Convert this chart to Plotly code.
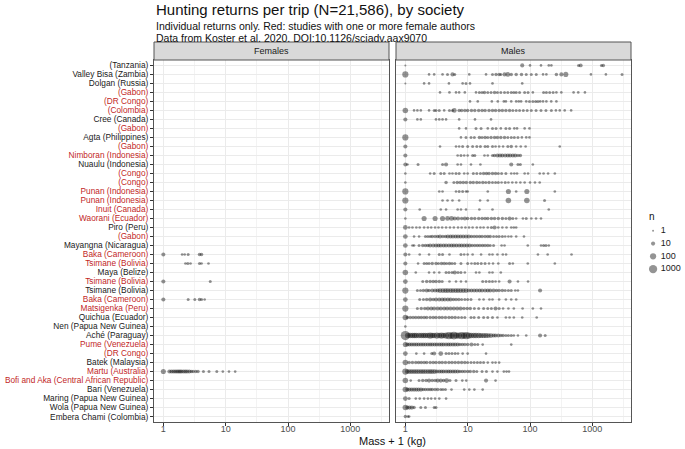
import numpy as np
import plotly.graph_objects as go

# societies, top to bottom; True = study with one or more female authors
societies = [
    "(Tanzania)", "Valley Bisa (Zambia)", "Dolgan (Russia)", "(Gabon)", "(DR Congo)",
    "(Colombia)", "Cree (Canada)", "(Gabon)", "Agta (Philippines)", "(Gabon)",
    "Nimboran (Indonesia)", "Nuaulu (Indonesia)", "(Congo)", "(Congo)", "Punan (Indonesia)",
    "Punan (Indonesia)", "Inuit (Canada)", "Waorani (Ecuador)", "Piro (Peru)", "(Gabon)",
    "Mayangna (Nicaragua)", "Baka (Cameroon)", "Tsimane (Bolivia)", "Maya (Belize)", "Tsimane (Bolivia)",
    "Tsimane (Bolivia)", "Baka (Cameroon)", "Matsigenka (Peru)", "Quichua (Ecuador)", "Nen (Papua New Guinea)",
    "Aché (Paraguay)", "Pume (Venezuela)", "(DR Congo)", "Batek (Malaysia)", "Martu (Australia)",
    "Bofi and Aka (Central African Republic)", "Bari (Venezuela)", "Maring (Papua New Guinea)",
    "Wola (Papua New Guinea)", "Embera Chami (Colombia)",
]
female_author = [
    False, False, False, True, True, True, False, True, False, True,
    True, False, True, True, True, True, True, True, False, True,
    False, True, True, False, True, False, True, True, False, False,
    False, True, True, False, True, True, False, False, False, False,
]

# (mass + 1 in kg, n returns), per society row
male_returns = [
    [(1, 1), (75, 10), (100, 2), (150, 2), (200, 2), (220, 2), (600, 3), (650, 8), (1400, 3), (1500, 5)],
    [(1, 100), (2.4, 2), (2.9, 2), (3.95, 2), (4.75, 3), (5.7, 10), (6.2, 3), (10.6, 2), (19.7, 2), (25, 3),
     (28.5, 5), (32, 5), (34, 3), (39, 10), (44, 20), (50, 5), (60, 5), (73, 5), (87, 3), (105, 3), (126, 3),
     (162, 2), (183, 2), (265, 5), (318, 10), (375, 30), (950, 2), (1650, 2), (3000, 3)],
    [(1, 1), (2, 2), (2.4, 2), (5, 2), (8.3, 2), (9.4, 3), (10.9, 2), (25, 2), (75, 2)],
    [(3.6, 2), (5.1, 2), (6.5, 2), (7.3, 2), (9, 2), (13.6, 2), (15.4, 3), (17, 3), (18.6, 5), (21, 3),
     (23.7, 3), (27, 5), (30, 3), (34, 3), (39, 3), (44, 3), (50, 3), (55, 3), (60, 3), (68, 3), (82, 3),
     (93, 3), (111, 2), (165, 3), (183, 3), (207, 3), (235, 3), (265, 2), (318, 2), (500, 2), (594, 2), (760, 2)],
    [(10.9, 2), (14.5, 2), (24.4, 2), (30.4, 2), (38, 2), (41, 2), (50, 2), (60, 2), (66, 2), (72, 2),
     (87, 2), (98, 3), (111, 3), (123, 3), (134, 3), (146, 2), (162, 2), (183, 2), (219, 2), (265, 2)],
    [(1, 50), (1.38, 2), (1.56, 2), (1.77, 2), (2.4, 2), (2.9, 3), (3.1, 3), (3.5, 3), (4.2, 2), (5.1, 3),
     (5.7, 3), (6.1, 20), (7.3, 5), (8, 5), (9, 5), (10, 5), (11.5, 5), (13, 5), (15, 5), (17, 5), (19, 5),
     (22, 5), (25, 5), (28, 5), (32, 5), (36, 5), (41, 5), (47, 5), (53, 3), (60, 3), (68, 3), (78, 3),
     (90, 3), (105, 3), (125, 3), (150, 3), (180, 3), (220, 3), (260, 2), (300, 2), (360, 2), (457, 2)],
    [(1, 10), (1.56, 2), (1.77, 2), (3.1, 2), (3.5, 2), (3.95, 2), (4.5, 2), (7.3, 2), (13.1, 2), (23.7, 2)],
    [(7.3, 2), (9.4, 2), (13.6, 3), (16.4, 3), (21, 2), (25, 3), (28.5, 3), (34, 2), (41, 3), (47, 3),
     (56, 2), (62, 2), (82, 2), (98, 2)],
    [(1, 100), (7.8, 2), (9.4, 3), (11.3, 3), (12.8, 3), (15.4, 5), (17, 3), (19, 5), (21, 3), (23.7, 5),
     (27, 5), (30, 5), (34, 5), (39, 5), (44, 3), (50, 3), (56, 3), (64, 3), (74, 2), (87, 2), (98, 2)],
    [(1, 10), (3.6, 2), (6.5, 2), (7.3, 2), (8.3, 3), (10, 3), (12, 3), (14, 3), (16, 3), (19, 3), (21, 3),
     (25, 3), (28, 2), (32, 2), (37, 2), (44, 3), (50, 5), (60, 2), (71, 2), (85, 2), (300, 2)],
    [(1, 10), (6.9, 2), (7.8, 3), (8.8, 2), (10, 2), (12, 3), (13, 3), (18.6, 2), (21, 2), (25, 3), (27, 5),
     (30, 10), (33, 10), (36, 10), (40, 10), (44, 10), (48, 10), (53, 10), (58, 10), (64, 5), (70, 5)],
    [(1, 10), (1.08, 2), (1.6, 3), (3.95, 3), (4.5, 10), (6.9, 2), (7.8, 2), (11.3, 2), (16, 2), (50, 10),
     (64, 3), (70, 3), (111, 2)],
    [(1, 2), (2.5, 2), (2.9, 3), (3.7, 3), (4.2, 3), (5.1, 2), (5.7, 2), (6.5, 3), (7.3, 3), (8.8, 2), (10, 2),
     (12.3, 3), (14, 3), (16, 3), (18, 5), (20, 5), (22, 5), (25, 5), (28, 5), (31, 3), (35, 3), (41, 3),
     (50, 2), (56, 2), (62, 2), (82, 2), (93, 2), (143, 2), (165, 2), (195, 2), (250, 2)],
    [(1, 2), (4.5, 5), (6, 3), (6.8, 5), (7.6, 5), (8.5, 5), (9.5, 5), (11, 5), (12.3, 5), (14, 5), (15.5, 3),
     (17.5, 5), (19.5, 3), (22, 5), (25, 3), (28, 3), (31, 3), (35, 2), (40, 3), (45, 2), (52, 2), (60, 2),
     (70, 2), (82, 2), (100, 2), (120, 2), (143, 2)],
    [(1, 100), (3.5, 2), (3.95, 2), (6.5, 2), (7.3, 3), (8.3, 3), (9.4, 2), (10, 2), (21, 2), (45, 30),
     (60, 2), (89, 30), (250, 2)],
    [(1, 100), (3.95, 2), (4.75, 2), (5.7, 2), (7.3, 2), (15.8, 2), (21, 2), (45, 50), (89, 50), (171, 3)],
    [(1, 10), (1.7, 2), (3.7, 2), (4.5, 2), (6.9, 2), (7.8, 2), (9.4, 2), (15.4, 2), (25, 2), (200, 2)],
    [(1, 2), (2, 30), (3, 30), (3.95, 30), (4.75, 20), (5.5, 20), (6.2, 10), (7, 10), (8, 5), (9, 10), (10, 5),
     (11.5, 5), (13, 5), (15, 5), (17, 5), (19, 5), (21, 5), (24, 5), (27, 5), (31, 5), (36, 5), (41, 3),
     (47, 10), (53, 3), (60, 2), (77, 2), (87, 3), (105, 2), (125, 2), (150, 2)],
    [(1, 20), (1.15, 2), (1.3, 2), (1.5, 2), (1.7, 2), (2, 2), (2.3, 2), (2.6, 2), (3, 2), (3.4, 2), (3.9, 2),
     (4.5, 2), (5.2, 2), (6, 2), (7, 2), (8, 2), (9.2, 2), (10.5, 2), (12, 2), (14, 2), (16, 2), (18, 2),
     (21, 2), (24, 3), (27, 10), (31, 2), (36, 2), (42, 2), (50, 2), (55, 2), (60, 2)],
    [(1, 20), (1.38, 2), (1.66, 2), (2.1, 3), (2.3, 3), (2.5, 3), (2.7, 5), (3, 5), (3.3, 5), (3.6, 10),
     (4, 5), (4.4, 5), (4.8, 10), (5.3, 10), (5.8, 10), (6.4, 10), (7, 10), (7.7, 10), (8.5, 10), (9.4, 10),
     (10.4, 10), (11.5, 5), (12.7, 5), (14, 5), (15.5, 5), (17, 5), (19, 5), (21, 5), (23, 5), (26, 3),
     (29, 3), (32, 3), (36, 3), (40, 2), (45, 2), (50, 2), (60, 2), (80, 2)],
    [(1, 20), (1.3, 2), (1.38, 2), (1.66, 3), (1.9, 5), (2.1, 5), (2.3, 5), (2.5, 10), (2.8, 10), (3.1, 10),
     (3.4, 10), (3.7, 10), (4.1, 10), (4.5, 10), (5, 10), (5.5, 10), (6, 10), (6.6, 10), (7.3, 10), (8, 10),
     (8.8, 10), (9.7, 10), (10.7, 10), (11.8, 5), (13, 5), (14.3, 5), (15.7, 5), (17.3, 5), (19, 5), (21, 5),
     (23, 3), (26, 3), (35, 2), (39, 2), (92, 2), (150, 2), (165, 3), (180, 3), (200, 2)],
    [(1, 10), (1.15, 2), (1.7, 2), (2.4, 2), (3.5, 3), (3.95, 3), (5.1, 2), (7.8, 3), (8.8, 2), (10, 2),
     (12, 2), (16.4, 2), (22.3, 2), (25, 2), (30, 2), (36.6, 2), (41.3, 2), (134, 2), (192, 2), (463, 2)],
    [(1, 10), (1.6, 2), (2, 3), (2.2, 3), (2.4, 3), (2.7, 5), (3.1, 5), (3.4, 3), (3.8, 5), (4.2, 5), (4.6, 3),
     (5.1, 5), (5.6, 3), (6.2, 3), (7.8, 3), (10, 3), (11.5, 2), (13, 3), (14.5, 3), (16.5, 3), (19, 3),
     (22, 2), (25.5, 2), (31, 2), (47, 3), (53, 2), (92, 2), (250, 2)],
    [(1, 50), (1.47, 2), (2.4, 2), (2.9, 2), (3.5, 2), (4.5, 3), (5, 3), (5.6, 3), (6.2, 10), (7, 3),
     (7.8, 3), (9, 2), (13.6, 2), (15.4, 2), (22.3, 2), (25, 2), (34, 2)],
    [(1, 20), (1.9, 3), (2.2, 5), (2.5, 5), (2.8, 5), (3.1, 5), (3.5, 5), (3.9, 3), (5.1, 2), (6.5, 2),
     (7.8, 2), (9.4, 2), (17.4, 3), (19.7, 3), (22.3, 3), (25, 3), (28, 2), (32, 2), (47, 10), (64, 2), (93, 2)],
    [(1, 100), (1.56, 3), (1.75, 3), (1.95, 5), (2.2, 10), (2.4, 5), (2.7, 10), (3, 10), (3.3, 10), (3.6, 20),
     (4, 20), (4.4, 20), (4.8, 20), (5.3, 20), (5.8, 20), (6.4, 20), (7, 20), (7.7, 20), (8.5, 20), (9.4, 20),
     (10.4, 10), (11.5, 10), (12.7, 10), (14, 10), (15.5, 10), (17, 10), (19, 10), (21, 10), (23, 10),
     (26, 10), (29, 5), (32, 5), (36, 5), (40, 3), (45, 3), (50, 3), (58, 2), (64, 2), (145, 10)],
    [(1, 20), (1.7, 3), (1.95, 3), (2.2, 5), (2.5, 10), (2.8, 5), (3.1, 10), (3.5, 10), (3.9, 10), (4.3, 10),
     (4.8, 10), (5.3, 10), (5.9, 5), (6.5, 5), (7.2, 5), (8, 3), (9, 3), (10, 3), (11.3, 3), (15.4, 2),
     (18, 2), (22.3, 2), (25, 2), (32, 2), (41, 2), (50, 2), (60, 2)],
    [(1, 100), (1.56, 3), (1.8, 5), (2.05, 5), (2.3, 10), (2.6, 10), (2.9, 10), (3.3, 10), (3.7, 10),
     (4.2, 10), (4.7, 10), (5.3, 10), (6, 10), (6.8, 10), (7.7, 10), (8.7, 5), (9.8, 5), (11, 5), (12.8, 3),
     (15, 3), (18, 3), (21, 3), (24, 3), (28, 10), (32, 3), (37, 2), (45, 2), (55, 2), (76, 2), (111, 2), (150, 2)],
    [(1, 50), (1.08, 5), (1.2, 5), (1.33, 5), (1.47, 5), (1.63, 5), (1.8, 5), (2, 5), (2.2, 5), (2.5, 5),
     (2.8, 5), (3.1, 5), (3.5, 5), (3.9, 5), (4.4, 5), (5, 5), (5.6, 5), (6.3, 5), (7.1, 3), (8, 3), (9, 3),
     (11.3, 3), (12.7, 3), (15, 3), (18, 3), (21, 3), (25, 3), (30, 2), (41, 2), (47, 2), (55, 2), (75, 2), (128, 2)],
    [(1, 2)],
    [(1, 3000), (1.1, 50), (1.2, 50), (1.3, 50), (1.4, 50), (1.5, 50), (1.65, 50), (1.8, 50), (1.95, 50),
     (2.1, 50), (2.3, 50), (2.5, 100), (2.7, 50), (2.9, 50), (3.2, 100), (3.5, 50), (3.8, 100), (4.1, 50),
     (4.5, 100), (5, 300), (5.5, 100), (6, 500), (6.6, 100), (7.2, 100), (8, 300), (8.7, 100), (9.5, 300),
     (10.4, 100), (11.4, 50), (12.5, 50), (13.6, 50), (15, 50), (16.4, 30), (18, 30), (19.7, 30), (21.5, 20),
     (23.6, 20), (26, 10), (28, 10), (31, 10), (34, 5), (37, 5), (41, 3), (45, 3), (50, 3), (55, 2), (64, 2),
     (87, 2), (145, 10), (175, 3)],
    [(1, 30), (1.08, 10), (1.17, 10), (1.27, 10), (1.38, 10), (1.5, 10), (1.63, 10), (1.78, 10), (1.93, 10),
     (2.1, 10), (2.3, 10), (2.5, 10), (2.7, 10), (2.95, 10), (3.2, 10), (3.5, 10), (3.8, 10), (4.1, 10),
     (4.5, 10), (4.9, 10), (5.3, 10), (5.8, 10), (6.3, 10), (6.9, 10), (7.5, 5), (8.2, 5), (9, 5), (10, 5),
     (11.5, 10), (13, 3), (14.5, 3), (17.4, 2), (50, 2)],
    [(1, 20), (1.5, 2), (2, 2), (2.65, 3), (2.9, 10), (3.7, 20), (4.5, 3), (5, 3), (5.6, 3), (6.3, 3), (7, 2),
     (8.3, 2), (10, 2), (19.7, 2)],
    [(1, 50), (1.15, 5), (1.3, 5), (1.47, 5), (1.63, 5), (1.8, 5), (2, 5), (2.2, 5), (2.5, 5), (2.8, 5),
     (3.1, 5), (3.5, 5), (3.9, 5), (4.4, 5), (5, 5), (5.6, 5), (6.3, 5), (7.1, 5), (8, 5), (9, 5), (10, 3),
     (11.3, 3), (12.7, 3), (14.3, 3), (16, 3), (18, 3), (21, 2), (25, 2), (28, 2), (32, 2)],
    [(1, 100), (1.08, 20), (1.17, 20), (1.27, 20), (1.38, 20), (1.5, 20), (1.63, 20), (1.78, 20), (1.93, 20),
     (2.1, 20), (2.3, 20), (2.5, 20), (2.7, 20), (2.95, 20), (3.2, 10), (3.5, 10), (3.8, 10), (4.1, 10),
     (4.5, 10), (4.9, 10), (5.3, 10), (5.8, 10), (6.3, 10), (6.9, 10), (7.5, 5), (8.2, 5), (9, 5), (10, 5),
     (11, 5), (12.5, 5), (14, 3), (17, 3), (20, 3), (25, 2), (30, 2), (38, 2), (42, 2), (46, 2)],
    [(1, 50), (1.22, 2), (1.66, 3), (1.9, 5), (2.15, 5), (2.4, 10), (2.7, 5), (3, 5), (3.3, 10), (3.7, 10),
     (4.1, 5), (4.6, 20), (5.2, 3), (6.5, 3), (8.2, 2), (9.5, 2), (19.7, 10), (28, 2)],
    [(1, 50), (1.08, 10), (1.17, 10), (1.27, 10), (1.38, 10), (1.5, 10), (1.63, 10), (1.78, 10), (1.93, 5),
     (2.1, 5), (2.3, 5), (2.5, 5), (2.7, 5), (3, 5), (3.3, 5), (3.7, 3), (4, 3), (4.4, 3), (5.5, 2), (8.8, 2),
     (10.6, 2), (12.8, 2), (17.4, 2)],
    [(1, 20), (1.15, 3), (1.47, 2), (1.7, 2), (2, 2), (2.3, 2), (2.6, 2), (3, 2), (3.5, 2), (4.5, 2)],
    [(1, 50), (1.08, 10), (1.17, 10), (1.27, 10), (1.38, 5), (1.77, 3), (2.1, 3), (2.9, 3), (3.1, 3)],
    [(1, 5), (1.1, 2), (1.15, 2)],
]

# females: only a few societies report individual female returns (row index -> returns)
female_returns = {
    21: [(1, 10), (2, 2), (2.2, 2), (2.5, 3), (3.8, 5), (4.1, 5)],
    22: [(2.26, 2), (2.47, 3), (2.73, 2), (3.8, 3), (4.1, 2), (5.3, 2)],
    24: [(1, 10), (5.66, 3)],
    26: [(1, 10), (2.5, 3), (3.2, 3), (3.8, 5), (4.1, 3), (4.6, 2)],
    34: [(1, 30), (1.25, 10), (1.35, 10), (1.45, 10), (1.55, 10), (1.65, 10), (1.75, 10), (1.85, 10),
         (1.95, 10), (2.1, 10), (2.25, 10), (2.4, 10), (2.6, 10), (2.8, 5), (3, 5), (3.3, 5), (3.6, 5),
         (4.4, 3), (5.4, 3), (7.2, 3), (9, 2), (11.3, 2), (14.2, 2)],
}

legend_n = [1, 10, 100, 1000]
x_ticks = [1, 10, 100, 1000]

RED = "#C21F1F"
PT = "rgba(0,0,0,0.6)"
FONT = "Liberation Sans, Arial, sans-serif"


def dot_size(n):
    return 2 + 2.1 * np.log10(np.asarray(n, dtype=float))


def flatten(rows):
    xs, ys, ns = [], [], []
    for i, pts in rows:
        for m, n in pts:
            xs.append(m)
            ys.append(i)
            ns.append(n)
    return xs, ys, ns


# geometry in pixels of the target picture
W, H = 685, 449
ML, MT, MB, MR = 154, 60, 27, 0
PW = W - ML - MR
PH = H - MT - MB


def px(x):
    return (x - ML) / PW


def py(y):
    return (H - MB - y) / PH


fig = go.Figure()

fx, fy, fn = flatten(sorted(female_returns.items()))
mx, my, mn = flatten(enumerate(male_returns))

fig.add_trace(go.Scatter(x=fx, y=fy, mode="markers", xaxis="x", yaxis="y", showlegend=False,
                         marker=dict(size=dot_size(fn), color=PT, line=dict(width=0))))
fig.add_trace(go.Scatter(x=mx, y=my, mode="markers", xaxis="x2", yaxis="y2", showlegend=False,
                         marker=dict(size=dot_size(mn), color=PT, line=dict(width=0))))

# size legend drawn on its own small axis
fig.add_trace(go.Scatter(x=[0.24] * len(legend_n), y=list(range(len(legend_n))), mode="markers",
                         xaxis="x3", yaxis="y3", showlegend=False,
                         marker=dict(size=dot_size(legend_n), color=PT, line=dict(width=0))))
fig.add_trace(go.Scatter(x=[0.42] * len(legend_n), y=list(range(len(legend_n))), mode="text",
                         text=[str(v) for v in legend_n], textposition="middle right",
                         textfont=dict(size=9, color="#1a1a1a", family=FONT),
                         xaxis="x3", yaxis="y3", showlegend=False))

ticktext = [f"<span style='color:{RED if f else '#1a1a1a'}'>{s}</span>"
            for s, f in zip(societies, female_author)]
nrow = len(societies)

xax = dict(type="log", range=[-0.15, 3.62], tickvals=x_ticks, ticktext=[str(v) for v in x_ticks],
           ticks="outside", ticklen=3, tickcolor="#333", tickfont=dict(size=9, color="#4D4D4D"),
           ticklabelstandoff=-5,
           showgrid=True, gridcolor="#EBEBEB", gridwidth=1, automargin=False,
           minor=dict(tickvals=[10 ** 0.5, 10 ** 1.5, 10 ** 2.5, 10 ** 3.5], showgrid=True,
                      gridcolor="#F3F3F3", gridwidth=0.6, ticks=""),
           showline=True, mirror=True, linecolor="#555", linewidth=1, zeroline=False)
yax = dict(range=[nrow - 0.4, -0.6], tickvals=list(range(nrow)), showgrid=True, gridcolor="#EBEBEB",
           gridwidth=1, showline=True, mirror=True, linecolor="#555", linewidth=1, zeroline=False,
           automargin=False)

gap = 7 / PW
pw = 235 / PW
fig.update_layout(
    width=W, height=H, margin=dict(l=ML, r=MR, t=MT, b=MB),
    paper_bgcolor="white", plot_bgcolor="white",
    font=dict(family=FONT, color="#1a1a1a"),
    xaxis=dict(domain=[0, pw], anchor="y", **xax),
    xaxis2=dict(domain=[pw + gap, 2 * pw + gap], anchor="y2", **xax),
    yaxis=dict(domain=[0, 1], anchor="x", ticktext=ticktext, ticks="outside", ticklen=3, tickcolor="#333",
               tickfont=dict(size=8.3, family=FONT), **yax),
    yaxis2=dict(domain=[0, 1], anchor="x2", matches="y", showticklabels=False, ticks="", **yax),
    xaxis3=dict(domain=[px(643), 1], range=[0, 1], visible=False, anchor="y3"),
    yaxis3=dict(domain=[py(275.5), py(224.5)], range=[len(legend_n) - 0.5, -0.5], visible=False, anchor="x3"),
)

# facet strips
for ax, label in [("x", "Females"), ("x2", "Males")]:
    fig.add_shape(type="rect", xref=f"{ax} domain", yref="paper", x0=0, x1=1, y0=1, y1=1 + 18 / PH,
                  fillcolor="#D9D9D9", line=dict(color="#555", width=1))
    fig.add_annotation(xref=f"{ax} domain", yref="paper", x=0.5, y=1 + 9 / PH, text=label,
                       showarrow=False, font=dict(size=9, color="#1a1a1a"), yanchor="middle")

# titles
fig.add_annotation(xref="paper", yref="paper", x=0, y=py(9.5), xanchor="left", yanchor="middle",
                   showarrow=False, text="Hunting returns per trip (N=21,586), by society",
                   font=dict(size=15, color="#111"))
fig.add_annotation(xref="paper", yref="paper", x=0, y=py(26), xanchor="left", yanchor="middle",
                   showarrow=False, text="Individual returns only. Red: studies with one or more female authors",
                   font=dict(size=10.5, color="#111"))
fig.add_annotation(xref="paper", yref="paper", x=0, y=py(38), xanchor="left", yanchor="middle",
                   showarrow=False, text="Data from Koster et al. 2020. DOI:10.1126/sciadv.aax9070",
                   font=dict(size=10.5, color="#111"))
fig.add_annotation(xref="paper", yref="paper", x=px(392.5), y=py(441), xanchor="center", yanchor="middle",
                   showarrow=False, text="Mass + 1 (kg)", font=dict(size=11, color="#111"))
fig.add_annotation(xref="paper", yref="paper", x=px(647), y=py(216), xanchor="left", yanchor="middle",
                   showarrow=False, text="n", font=dict(size=10, color="#111"))

# the page body has a default 8px margin; drop it so the figure sits at the window corner
fig.write_html("out.html", config={"displayModeBar": False},
               post_script="document.body.style.margin='0px';")
